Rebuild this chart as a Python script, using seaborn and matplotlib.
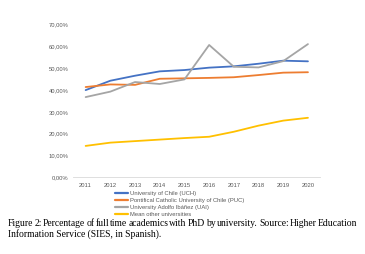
import matplotlib
matplotlib.use("Agg")
import matplotlib.pyplot as plt
import seaborn as sns
import pandas as pd
from matplotlib.ticker import FuncFormatter
from matplotlib.lines import Line2D

years = [2011, 2012, 2013, 2014, 2015, 2016, 2017, 2018, 2019, 2020]
uch = [40.0, 44.3, 46.6, 48.6, 49.2, 50.3, 50.9, 52.1, 53.5, 53.2]
puc = [41.4, 42.6, 42.4, 45.2, 45.4, 45.6, 45.9, 46.9, 48.0, 48.2]
uai = [36.8, 39.3, 43.7, 42.8, 44.9, 60.7, 50.7, 50.4, 53.3, 61.1]
other = [14.4, 15.9, 16.6, 17.3, 18.0, 18.6, 20.9, 23.7, 26.0, 27.3]
series_names = ["University of Chile (UCH)",
                "Pontifical Catholic University of Chile (PUC)",
                "University Adolfo Ibáñez (UAI)",
                "Mean other universities"]
yticks = [0, 10, 20, 30, 40, 50, 60, 70]
caption1 = "Figure 2: Percentage of full time academics with PhD by university. Source: Higher Education"
caption2 = "Information Service (SIES, in Spanish)."

colors = ["#4472C4", "#ED7D31", "#A5A5A5", "#FFC000"]

df = pd.concat([
    pd.DataFrame({"year": years, "value": vals, "series": name})
    for name, vals in zip(series_names, [uch, puc, uai, other])
])

sns.set_theme(style="white")
plt.rcParams["font.family"] = ["Liberation Sans", "DejaVu Sans"]

W, H = 365, 254
fig = plt.figure(figsize=(W / 100, H / 100), dpi=100)
fig.patch.set_facecolor("white")
ax = fig.add_axes([73.3 / W, (H - 177.3) / H, 247 / W, 152.6 / H])

sns.lineplot(data=df, x="year", y="value", hue="series", palette=colors,
             hue_order=series_names, linewidth=1.3, ax=ax, legend=False)

ax.set_xlim(2010.5, 2020.5)
ax.set_ylim(0, 70)
ax.set_xticks(years)
ax.set_xticklabels([str(y) for y in years])
ax.set_yticks(yticks)
ax.yaxis.set_major_formatter(FuncFormatter(lambda v, p: f"{v:.2f}%".replace(".", ",")))
ax.tick_params(axis="both", labelsize=4.2, colors="#595959", length=0)
ax.tick_params(axis="y", pad=3.5)
ax.tick_params(axis="x", pad=4)
ax.set_xlabel("")
ax.set_ylabel("")
for s in ["top", "right", "left"]:
    ax.spines[s].set_visible(False)
ax.spines["bottom"].set_color("#D9D9D9")
ax.spines["bottom"].set_linewidth(0.6)
ax.grid(False)

handles = [Line2D([0], [0], color=c, lw=1.6) for c in colors]
fig.legend(handles, series_names, loc="upper left",
           bbox_to_anchor=(115 / W, 1 - 190.5 / H), frameon=False,
           fontsize=4.2, handlelength=2.3, handletextpad=0.35,
           labelspacing=0.33, borderaxespad=0, borderpad=0,
           labelcolor="#595959")

# caption: first line justified between x=8 and x=357 px
cap_fs = 6.9
x0, x1 = 8, 357
renderer = fig.canvas.get_renderer()
words = caption1.split(" ")
widths = []
for w in words:
    t = fig.text(0, 0, w, fontsize=cap_fs, family="Liberation Serif")
    widths.append(t.get_window_extent(renderer).width)
    t.remove()
gap = (x1 - x0 - sum(widths)) / (len(words) - 1)
x = x0
for w, wd in zip(words, widths):
    fig.text(x / W, 1 - 224 / H, w, fontsize=cap_fs, family="Liberation Serif",
             va="center", ha="left", color="black")
    x += wd + gap
fig.text(x0 / W, 1 - 234 / H, caption2, fontsize=cap_fs, family="Liberation Serif",
         va="center", ha="left", color="black")

fig.savefig("out.png", dpi=100, facecolor="white")
